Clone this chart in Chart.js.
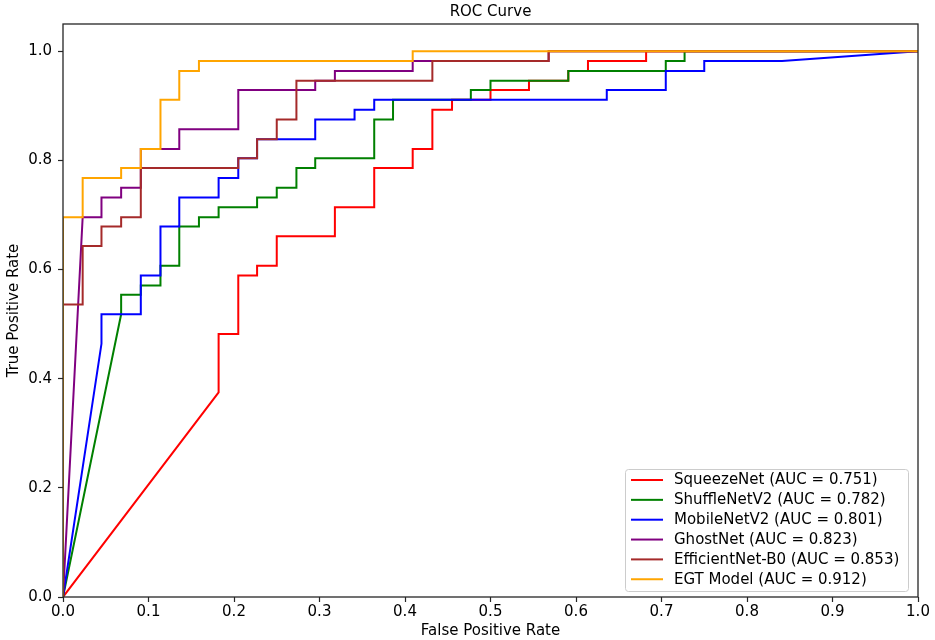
<!DOCTYPE html>
<html>
<head>
<meta charset="utf-8">
<script src="https://cdn.jsdelivr.net/npm/chart.js@4.4.0/dist/chart.umd.min.js"></script>
<style>
html,body{margin:0;padding:0;background:#ffffff;}
#wrap{width:935px;height:640px;}
</style>
</head>
<body>
<div id="wrap"><canvas id="c" width="935" height="640"></canvas></div>
<script>
// ---- data ----
const chartTitle = 'ROC Curve';
const xAxisTitle = 'False Positive Rate';
const yAxisTitle = 'True Positive Rate';
const modelNames = ['SqueezeNet', 'ShuffleNetV2', 'MobileNetV2', 'GhostNet', 'EfficientNet-B0', 'EGT Model'];
const aucValues = ['0.751', '0.782', '0.801', '0.823', '0.853', '0.912'];
const modelColors = ['#ff0000', '#008000', '#0000ff', '#800080', '#a52a2a', '#ffa500'];

const squeezeFpr = [0, 0.182, 0.182, 0.205, 0.205, 0.227, 0.227, 0.25, 0.25, 0.318, 0.318, 0.364, 0.364, 0.409, 0.409, 0.432, 0.432, 0.455, 0.455, 0.5, 0.5, 0.545, 0.545, 0.591, 0.591, 0.614, 0.614, 0.682, 0.682, 1.0];
const squeezeTpr = [0, 0.375, 0.482, 0.482, 0.589, 0.589, 0.607, 0.607, 0.661, 0.661, 0.714, 0.714, 0.786, 0.786, 0.821, 0.821, 0.893, 0.893, 0.911, 0.911, 0.929, 0.929, 0.946, 0.946, 0.964, 0.964, 0.982, 0.982, 1.0, 1.0];

const shuffleFpr = [0, 0.068, 0.068, 0.091, 0.091, 0.114, 0.114, 0.136, 0.136, 0.159, 0.159, 0.182, 0.182, 0.227, 0.227, 0.25, 0.25, 0.273, 0.273, 0.295, 0.295, 0.364, 0.364, 0.386, 0.386, 0.477, 0.477, 0.5, 0.5, 0.591, 0.591, 0.705, 0.705, 0.727, 0.727, 1.0];
const shuffleTpr = [0, 0.518, 0.554, 0.554, 0.571, 0.571, 0.607, 0.607, 0.679, 0.679, 0.696, 0.696, 0.714, 0.714, 0.732, 0.732, 0.75, 0.75, 0.786, 0.786, 0.804, 0.804, 0.875, 0.875, 0.911, 0.911, 0.929, 0.929, 0.946, 0.946, 0.964, 0.964, 0.982, 0.982, 1.0, 1.0];

const mobileFpr = [0, 0.045, 0.045, 0.091, 0.091, 0.114, 0.114, 0.136, 0.136, 0.182, 0.182, 0.205, 0.205, 0.227, 0.227, 0.295, 0.295, 0.341, 0.341, 0.364, 0.364, 0.636, 0.636, 0.705, 0.705, 0.75, 0.75, 0.841, 1.0];
const mobileTpr = [0, 0.464, 0.518, 0.518, 0.589, 0.589, 0.679, 0.679, 0.732, 0.732, 0.768, 0.768, 0.804, 0.804, 0.839, 0.839, 0.875, 0.875, 0.893, 0.893, 0.911, 0.911, 0.929, 0.929, 0.964, 0.964, 0.982, 0.982, 1.0];

const ghostFpr = [0, 0.023, 0.045, 0.045, 0.068, 0.068, 0.091, 0.091, 0.136, 0.136, 0.205, 0.205, 0.295, 0.295, 0.318, 0.318, 0.409, 0.409, 0.568, 0.568, 1.0];
const ghostTpr = [0, 0.696, 0.696, 0.732, 0.732, 0.75, 0.75, 0.821, 0.821, 0.857, 0.857, 0.929, 0.929, 0.946, 0.946, 0.964, 0.964, 0.982, 0.982, 1.0, 1.0];

const effFpr = [0, 0, 0.023, 0.023, 0.045, 0.045, 0.068, 0.068, 0.091, 0.091, 0.205, 0.205, 0.227, 0.227, 0.25, 0.25, 0.273, 0.273, 0.432, 0.432, 0.568, 0.568, 1.0];
const effTpr = [0, 0.536, 0.536, 0.643, 0.643, 0.679, 0.679, 0.696, 0.696, 0.786, 0.786, 0.804, 0.804, 0.839, 0.839, 0.875, 0.875, 0.946, 0.946, 0.982, 0.982, 1.0, 1.0];

const egtFpr = [0, 0, 0.023, 0.023, 0.068, 0.068, 0.091, 0.091, 0.114, 0.114, 0.136, 0.136, 0.159, 0.159, 0.409, 0.409, 1.0];
const egtTpr = [0, 0.696, 0.696, 0.768, 0.768, 0.786, 0.786, 0.821, 0.821, 0.911, 0.911, 0.964, 0.964, 0.982, 0.982, 1.0, 1.0];

const xTickValues = [0, 0.1, 0.2, 0.3, 0.4, 0.5, 0.6, 0.7, 0.8, 0.9, 1.0];
const yTickValues = [0, 0.2, 0.4, 0.6, 0.8, 1.0];

// ---- build ----
const fprList = [squeezeFpr, shuffleFpr, mobileFpr, ghostFpr, effFpr, egtFpr];
const tprList = [squeezeTpr, shuffleTpr, mobileTpr, ghostTpr, effTpr, egtTpr];

const FONT = "'DejaVu Sans', sans-serif";
const AXIS_COLOR = '#262626';

const datasets = modelNames.map((name, i) => ({
  label: name + ' (AUC = ' + aucValues[i] + ')',
  data: fprList[i].map((x, k) => ({x: x, y: tprList[i][k]})),
  borderColor: modelColors[i],
  backgroundColor: modelColors[i],
  borderWidth: 2,
  pointRadius: 0,
  tension: 0,
  fill: false,
  borderJoinStyle: 'miter',
  borderCapStyle: 'butt',
  order: modelNames.length - i
}));

const framePlugin = {
  id: 'frame',
  afterDatasetsDraw(chart) {
    const {ctx, chartArea: a} = chart;
    ctx.save();
    ctx.strokeStyle = AXIS_COLOR;
    ctx.lineWidth = 1.3;
    ctx.strokeRect(a.left, a.top, a.right - a.left, a.bottom - a.top);
    ctx.restore();
  }
};

const titlePlugin = {
  id: 'mplTitle',
  afterDraw(chart) {
    const {ctx, chartArea: a} = chart;
    ctx.save();
    ctx.fillStyle = '#000';
    ctx.font = '15px ' + FONT;
    ctx.textAlign = 'center';
    ctx.textBaseline = 'middle';
    ctx.fillText(chartTitle, (a.left + a.right) / 2, 12);
    ctx.restore();
  }
};

const legendPlugin = {
  id: 'mplLegend',
  afterDraw(chart) {
    const {ctx} = chart;
    const bx = 625, by = 469, bw = 283, bh = 122;
    ctx.save();
    ctx.beginPath();
    if (ctx.roundRect) ctx.roundRect(bx + 0.5, by + 0.5, bw, bh, 3); else ctx.rect(bx + 0.5, by + 0.5, bw, bh);
    ctx.fillStyle = 'rgba(255,255,255,0.8)';
    ctx.fill();
    ctx.strokeStyle = '#cccccc';
    ctx.lineWidth = 1;
    ctx.stroke();
    ctx.font = '15px ' + FONT;
    ctx.textBaseline = 'middle';
    ctx.textAlign = 'left';
    chart.data.datasets.forEach((ds, i) => {
      const y = by + 11 + i * 19.85;
      ctx.beginPath();
      ctx.strokeStyle = ds.borderColor;
      ctx.lineWidth = 2;
      ctx.moveTo(631, y);
      ctx.lineTo(663, y);
      ctx.stroke();
      ctx.fillStyle = '#000';
      ctx.fillText(ds.label, 674, y + 0.5);
    });
    ctx.restore();
  }
};

new Chart(document.getElementById('c'), {
  type: 'line',
  data: {datasets: datasets},
  options: {
    responsive: false,
    animation: false,
    events: [],
    layout: {padding: {top: 24, right: 17, left: 0, bottom: 0}},
    plugins: {
      legend: {display: false},
      tooltip: {enabled: false},
      title: {display: false}
    },
    scales: {
      x: {
        type: 'linear',
        min: 0,
        max: 1,
        afterBuildTicks(scale) { scale.ticks = xTickValues.map(v => ({value: v})); },
        afterFit(scale) { scale.height = 43; },
        border: {display: false},
        grid: {display: true, drawOnChartArea: false, drawTicks: true, tickLength: 5, tickColor: AXIS_COLOR, tickWidth: 1.2},
        ticks: {
          color: '#000',
          font: {family: FONT, size: 15},
          padding: 1,
          maxRotation: 0,
          autoSkip: false,
          callback: v => Number(v).toFixed(1)
        },
        title: {display: true, text: xAxisTitle, color: '#000', font: {family: FONT, size: 15}, padding: {top: 0, bottom: 0}}
      },
      y: {
        type: 'linear',
        min: 0,
        max: 1.05,
        afterBuildTicks(scale) { scale.ticks = yTickValues.map(v => ({value: v})); },
        afterFit(scale) { scale.width = 63; },
        border: {display: false},
        grid: {display: true, drawOnChartArea: false, drawTicks: true, tickLength: 5, tickColor: AXIS_COLOR, tickWidth: 1.2},
        ticks: {
          color: '#000',
          font: {family: FONT, size: 15},
          padding: 6,
          autoSkip: false,
          callback: v => Number(v).toFixed(1)
        },
        title: {display: true, text: yAxisTitle, color: '#000', font: {family: FONT, size: 15}, padding: {top: 5, bottom: 0}}
      }
    }
  },
  plugins: [framePlugin, titlePlugin, legendPlugin]
});
</script>
</body>
</html>
